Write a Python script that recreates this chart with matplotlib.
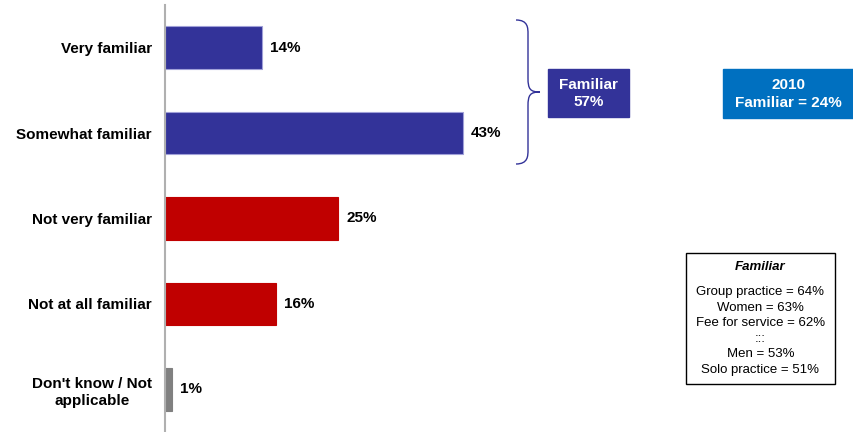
import matplotlib.pyplot as plt
from matplotlib.patches import Rectangle, PathPatch
from matplotlib.path import Path

plt.rcParams['font.family'] = ['Liberation Sans', 'DejaVu Sans']

# Familiarity responses (percent)
categories = ['Very familiar', 'Somewhat familiar', 'Not very familiar',
              'Not at all familiar', "Don't know / Not\napplicable"]
values = [14, 43, 25, 16, 1]
bar_colors = ['#333399', '#333399', '#C00000', '#C00000', '#808080']
edge_colors = ['#A0A0D8', '#A0A0D8', '#C00000', '#C00000', '#808080']

familiar_total = 57
familiar_2010 = 24
subgroups = ['Group practice', 'Women', 'Fee for service', None, 'Men', 'Solo practice']
subgroup_values = [64, 63, 62, None, 53, 51]

W, H = 854, 432
fig = plt.figure(figsize=(W / 100, H / 100), dpi=100)
ax = fig.add_axes([165 / W, 0, (W - 165) / W, 427 / H])

ypos = list(range(len(categories)))
ax.barh(ypos, values, height=0.5, color=bar_colors, edgecolor=edge_colors, linewidth=0.8)
ax.set_xlim(0, 99.5)
ax.set_ylim(4.5, -0.5)

for y, v in zip(ypos, values):
    ax.annotate(f'{v}%', (v, y), xytext=(6, 0), textcoords='offset points',
                va='center', ha='left', fontsize=11, fontweight='bold')

ax.set_yticks(ypos)
ax.set_yticklabels(categories, fontsize=11, fontweight='bold')
for lbl in ax.get_yticklabels():
    lbl.set_multialignment('center')
    lbl.set_linespacing(1.3)
ax.tick_params(axis='y', length=0, pad=9.5)
ax.tick_params(axis='x', bottom=False, labelbottom=False)
for s in ['top', 'right', 'bottom']:
    ax.spines[s].set_visible(False)
ax.spines['left'].set_color('#B0B0B0')
ax.spines['left'].set_linewidth(1.5)


def fx(px):
    return px / W


def fy(py):
    return 1 - py / H


# curly brace grouping the two familiar bars
x0, x1, xt = 516, 528, 540
yt, ym, yb = 20, 92, 164
verts = [(x0, yt), (x1, yt), (x1, yt + 8), (x1, yt + 14),
         (x1, ym - 14),
         (x1, ym - 3), (x1 + 2, ym), (xt, ym),
         (x1 + 2, ym), (x1, ym + 3), (x1, ym + 14),
         (x1, yb - 14),
         (x1, yb - 8), (x1, yb), (x0, yb)]
codes = [Path.MOVETO, Path.CURVE4, Path.CURVE4, Path.CURVE4,
         Path.LINETO,
         Path.CURVE4, Path.CURVE4, Path.CURVE4,
         Path.CURVE4, Path.CURVE4, Path.CURVE4,
         Path.LINETO,
         Path.CURVE4, Path.CURVE4, Path.CURVE4]
brace = Path([(fx(a), fy(b)) for a, b in verts], codes)
fig.add_artist(PathPatch(brace, transform=fig.transFigure, fill=False,
                         edgecolor='#333399', linewidth=1.0))


def box(x, y, w, h, face, edge=None):
    fig.add_artist(Rectangle((fx(x), fy(y + h)), w / W, h / H, transform=fig.transFigure,
                             facecolor=face, edgecolor=edge or face, linewidth=1.0))


box(548, 69, 81, 48, '#333399')
fig.text(fx(588.5), fy(93.5), f'Familiar\n{familiar_total}%', ha='center', va='center',
         color='white', fontsize=11, fontweight='bold', linespacing=1.3)

box(723, 69, 131, 49, '#0070C0')
fig.text(fx(788.5), fy(94), f'2010\nFamiliar = {familiar_2010}%', ha='center', va='center',
         color='white', fontsize=11, fontweight='bold', linespacing=1.3)

box(686, 253, 149, 131, 'white', 'black')
fig.text(fx(760.5), fy(267), 'Familiar', ha='center', va='center',
         fontsize=9.5, fontweight='bold', fontstyle='italic')
line_y = 292
for name, v in zip(subgroups, subgroup_values):
    txt = ':::' if name is None else f'{name} = {v}%'
    fig.text(fx(760.5), fy(line_y), txt, ha='center', va='center', fontsize=9.5)
    line_y += 15.6

fig.savefig('out.png', dpi=100)
